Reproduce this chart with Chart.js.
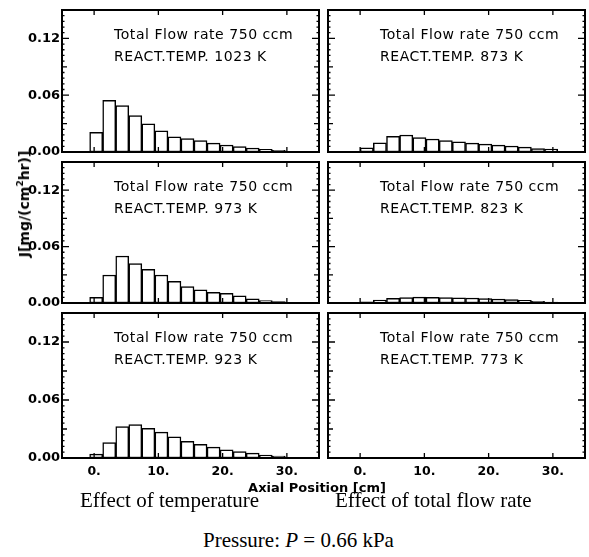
<!DOCTYPE html>
<html>
<head>
<meta charset="utf-8">
<script src="https://cdn.jsdelivr.net/npm/chart.js@4.4.1/dist/chart.umd.min.js"></script>
<style>
body{margin:0;background:#fff;width:589px;height:557px;position:relative;overflow:hidden}
canvas{position:absolute}
.t{position:absolute;white-space:nowrap;color:#000}
.ann{font-family:"DejaVu Sans";font-size:14px;letter-spacing:.55px;line-height:21.5px}
.ttl{font-family:"DejaVu Sans";font-weight:bold;font-size:13px;line-height:16px}
.cap{font-family:"Liberation Serif";font-size:21px;line-height:21px}
sup{font-size:9px;line-height:0}
</style>
</head>
<body>
<script>
// axial positions (bar centres, cm) and tick values
const axialLeft = [0.32, 2.35, 4.38, 6.41, 8.44, 10.47, 12.5, 14.53, 16.56, 18.59, 20.62, 22.65, 24.68, 26.71, 28.74]
const axialRight = [1.03, 3.08, 5.13, 7.18, 9.23, 11.28, 13.33, 15.38, 17.43, 19.48, 21.53, 23.58, 25.63, 27.68, 29.73]
const xTicks = [0, 10, 20, 30]
const yTicks = [0, 0.06, 0.12]

// J [mg/(cm2 hr)] per reaction temperature
const flux1023 = [0.0207, 0.0545, 0.049, 0.0385, 0.0297, 0.0223, 0.0159, 0.0142, 0.012, 0.0093, 0.0074, 0.0056, 0.0042, 0.0028, 0.0018]
const flux973 = [0.006, 0.0298, 0.050, 0.042, 0.0357, 0.0298, 0.023, 0.0174, 0.014, 0.0114, 0.0104, 0.0076, 0.0044, 0.0026, 0.0016]
const flux923 = [0.004, 0.016, 0.0325, 0.0346, 0.0307, 0.0268, 0.0219, 0.0172, 0.0141, 0.0113, 0.0085, 0.0067, 0.005, 0.003, 0.002]
const flux873 = [0.0045, 0.0098, 0.0165, 0.018, 0.0152, 0.0137, 0.012, 0.0108, 0.0093, 0.0084, 0.0072, 0.0063, 0.0052, 0.0037, 0.003]
const flux823 = [0.0012, 0.003, 0.005, 0.0058, 0.0062, 0.006, 0.0058, 0.0056, 0.0053, 0.0048, 0.0043, 0.0037, 0.0028, 0.0018, 0.001]
const flux773 = [0.0003, 0.0004, 0.0005, 0.0005, 0.0005, 0.0005, 0.0004, 0.0004, 0.0004, 0.0003, 0.0003, 0.0003, 0.0002, 0.0002, 0.0002]

const flowLabel = 'Total Flow rate 750 ccm'

const panels = [
	{temp: 1023, pos: axialLeft, vals: flux1023, col: 0, row: 0},
	{temp: 873, pos: axialRight, vals: flux873, col: 1, row: 0},
	{temp: 973, pos: axialLeft, vals: flux973, col: 0, row: 1},
	{temp: 823, pos: axialRight, vals: flux823, col: 1, row: 1},
	{temp: 923, pos: axialLeft, vals: flux923, col: 0, row: 2},
	{temp: 773, pos: axialRight, vals: flux773, col: 1, row: 2},
]

// canvas boxes
const cols = [{left: 0, width: 324, yw: 62, pr: 5, area: 62}, {left: 323, width: 266, yw: 5, pr: 4, area: 328}]
const rows = [{top: 0, height: 157, xh: 5, area: 10}, {top: 152, height: 156, xh: 5, area: 162}, {top: 303, height: 182, xh: 27, area: 313}]

const el = (tag, css, html) => {
	const a = document.createElement(tag)
	if (css) a.style.cssText = css
	if (html !== undefined) a.innerHTML = html
	document.body.appendChild(a)
	return a
}

const frame = {
	id: 'frame',
	afterDraw: c => {
		const {ctx, chartArea: a, scales: {x, y}} = c
		ctx.save()
		ctx.strokeStyle = '#000'
		ctx.lineWidth = 1.3
		ctx.beginPath()
		xTicks.forEach(v => {
			const p = x.getPixelForValue(v)
			ctx.moveTo(p, a.bottom); ctx.lineTo(p, a.bottom - 5)
			ctx.moveTo(p, a.top); ctx.lineTo(p, a.top + 5)
		})
		// minor ticks every 0.006, longer at 0.03 / 0.06
		for (let k = 0; k <= 25; k++) {
			const p = y.getPixelForValue(k * 0.006)
			const len = k % 10 == 0 ? 7 : k % 5 == 0 ? 5 : 2.5
			ctx.moveTo(a.left, p); ctx.lineTo(a.left + len, p)
			ctx.moveTo(a.right, p); ctx.lineTo(a.right - len, p)
		}
		ctx.stroke()
		ctx.lineWidth = 2
		ctx.strokeRect(a.left, a.top, a.right - a.left, a.bottom - a.top)
		ctx.restore()
	}
}

const tickFont = {family: 'DejaVu Sans', weight: 'bold', size: 13}

panels.forEach(p => {
	const c = cols[p.col], r = rows[p.row]
	const cv = el('canvas', `left:${c.left}px;top:${r.top}px`)
	cv.width = c.width
	cv.height = r.height

	new Chart(cv, {
		type: 'bar',
		plugins: [frame],
		data: {
			datasets: [{
				data: p.pos.map((x, i) => ({x, y: p.vals[i]})),
				backgroundColor: '#fff',
				borderColor: '#000',
				borderWidth: 1.5,
				borderSkipped: false,
				barPercentage: 1,
				categoryPercentage: 1,
			}]
		},
		options: {
			responsive: false,
			animation: false,
			events: [],
			layout: {padding: {top: 10, left: 0, right: c.pr, bottom: 0}},
			plugins: {legend: {display: false}, tooltip: {enabled: false}},
			scales: {
				x: {
					type: 'linear', min: -5, max: 35, offset: false,
					grid: {display: false, drawTicks: false, offset: false},
					border: {display: false},
					afterBuildTicks: s => { s.ticks = xTicks.map(v => ({value: v})) },
					ticks: {display: p.row == 2, color: '#000', font: {family: 'DejaVu Sans', weight: 'bold', size: 12.5}, padding: 6, maxRotation: 0, callback: v => v + '.'},
					afterFit: s => { s.height = r.xh; s.paddingLeft = 0; s.paddingRight = 0 }
				},
				y: {
					min: 0, max: 0.15,
					grid: {display: false, drawTicks: false},
					border: {display: false},
					afterBuildTicks: s => { s.ticks = yTicks.map(v => ({value: v})) },
					ticks: {display: p.col == 0, color: '#000', font: tickFont, padding: 2, callback: v => v.toFixed(2)},
					afterFit: s => { s.width = c.yw; s.paddingTop = 0; s.paddingBottom = 0 }
				}
			}
		}
	})

	el('div', `left:${c.area + 52}px;top:${r.area + 14}px`, `${flowLabel}<br>REACT.TEMP. ${p.temp} K`).className = 't ann'
})

el('div', 'left:24px;top:204px;transform:translate(-50%,-50%) rotate(-90deg);font-size:14px', 'J[mg/(cm<sup>2</sup>hr)]').className = 't ttl'
el('div', 'left:317px;top:480px;transform:translateX(-50%)', 'Axial Position [cm]').className = 't ttl'
el('div', 'left:80px;top:490px', 'Effect of temperature').className = 't cap'
el('div', 'left:335px;top:490px', 'Effect of total flow rate').className = 't cap'
el('div', 'left:203px;top:530px', 'Pressure: <i>P</i> = 0.66 kPa').className = 't cap'
</script>
</body>
</html>
